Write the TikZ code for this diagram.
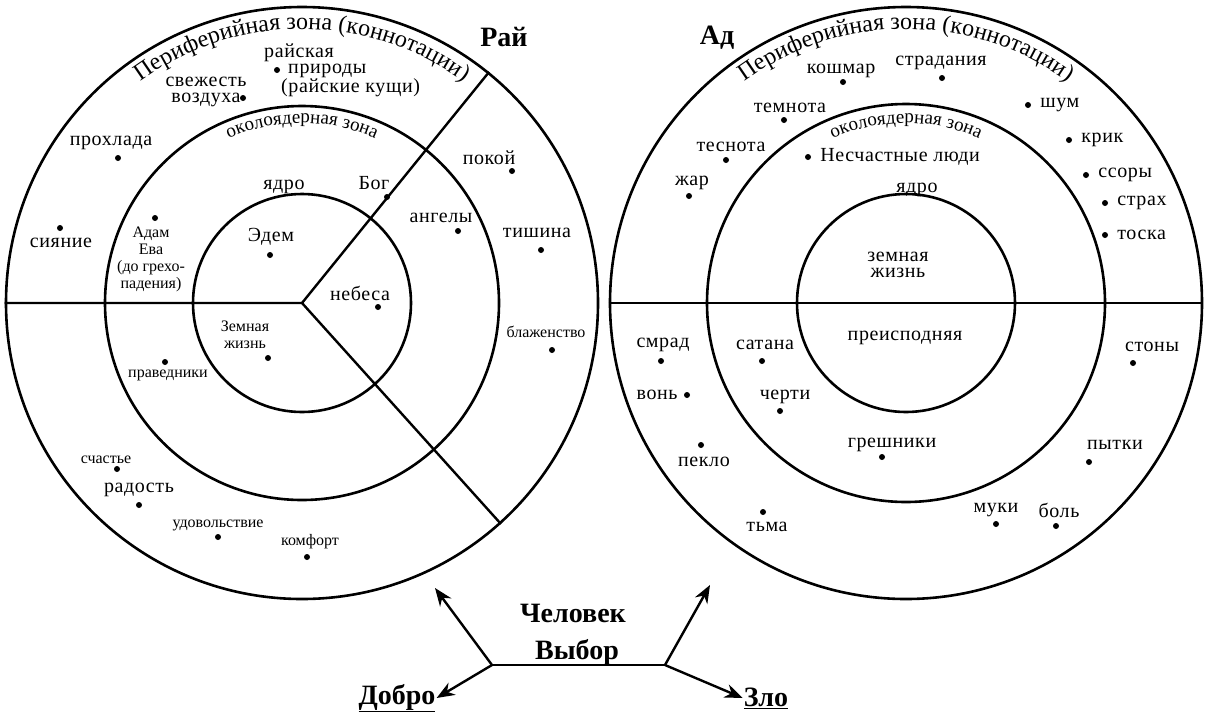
\documentclass[tikz,border=0pt]{standalone}
\usepackage{fontspec}
\setmainfont{Liberation Serif}
\newfontfamily\lblfont[LetterSpace=3]{Liberation Serif}
\usetikzlibrary{arrows.meta}
\usetikzlibrary{decorations.text}
\usetikzlibrary{positioning}

\tikzset{
    ring/.style={circle, draw, line width=2.6pt, inner sep=0pt},
    spoke/.style={line width=2.4pt},
    dot/.style={circle, fill=black, inner sep=0pt, minimum size=6pt},
    lbl/.style={inner sep=1pt, font=\lblfont\fontsize{20}{16}\selectfont, align=center},
    sml/.style={inner sep=1pt, font=\rmfamily\fontsize{16}{17}\selectfont, align=center},
    heading/.style={inner sep=1pt, font=\rmfamily\bfseries\fontsize{28}{28}\selectfont},
    choice/.style={-{Stealth[length=18pt, width=14pt]}, line width=2.4pt},
}

\begin{document}
\begin{tikzpicture}[x=1pt, y=-1pt]
    \path[fill=white, use as bounding box] (0,0) rectangle (1205,713);

    % Рай
    \coordinate (rai-c) at (302,303);
    \node[ring, minimum size=592pt] (rai-out) at (rai-c) {};
    \node[ring, minimum size=394pt] (rai-mid) at (rai-c) {};
    \node[ring, minimum size=218pt] (rai-in) at (rai-c) {};
    \draw[spoke] (rai-out.west) -- (rai-c) -- (rai-out.51);
    \draw[spoke] (rai-c) -- (rai-out.-48);

    % Ад
    \coordinate (ad-c) at (906,303);
    \node[ring, minimum size=592pt] (ad-out) at (ad-c) {};
    \node[ring, minimum size=398pt] (ad-mid) at (ad-c) {};
    \node[ring, minimum size=218pt] (ad-in) at (ad-c) {};
    \draw[spoke] (ad-out.west) -- (ad-out.east);

    \foreach \c in {rai-c, ad-c} {
        \path[decorate, decoration={text along path, text align=center,
            text={|\rmfamily\fontsize{24}{24}\selectfont|Периферийная зона (коннотации)}}]
            (\c) ++(-128:274) arc[start angle=-128, end angle=-52, radius=274];
        \path[decorate, decoration={text along path, text align=center,
            text={|\rmfamily\fontsize{19}{19}\selectfont|околоядерная зона}}]
            (\c) ++(-120:180) arc[start angle=-120, end angle=-60, radius=180];
    }

    \foreach \nm/\x/\y in {rai-priroda/277/70, rai-vozduh/243/98, rai-proxl/118/158,
        rai-siyan/60/228, rai-bog/387/197, rai-edem/270/255, rai-adam/155/218,
        rai-nebesa/378/307, rai-zemn/268/358, rai-praved/165/362, rai-schast/117/469,
        rai-radost/139/505, rai-udov/218/537, rai-komf/307/557, rai-pokoi/512/171,
        rai-angely/458/231, rai-tish/541/250, rai-blazh/552/350}
        \node[dot] (\nm) at (\x,\y) {};
    \foreach \nm/\x/\y in {ad-koshmar/843/82, ad-strad/942/78, ad-temnota/784/120,
        ad-tesnota/726/160, ad-zhar/689/196, ad-lyudi/808/157, ad-shum/1028/105,
        ad-krik/1069/140, ad-ssory/1086/175, ad-strah/1105/203, ad-toska/1105/235,
        ad-smrad/661/361, ad-von/687/395, ad-peklo/701/445, ad-tma/763/512,
        ad-satana/762/361, ad-cherti/780/411, ad-greshn/882/457, ad-stony/1133/363,
        ad-pytki/1089/462, ad-muki/996/524, ad-bol/1056/526}
        \node[dot] (\nm) at (\x,\y) {};

    % подписи: Рай
    \node[heading] (rai-title) at (504,37) {Рай};
    \node[lbl, anchor=west, align=left] (rai-priroda-t) at (263,70)
        {райская\\\hspace*{24pt}природы\\\hspace*{17pt}(райские кущи)};
    \node[lbl] (rai-vozduh-t) at (206,92) {свежесть\\воздуха};
    \node[lbl] (rai-proxl-t) at (111,143) {прохлада};
    \node[lbl] (rai-siyan-t) at (61,243) {сияние};
    \node[lbl] (rai-yadro) at (284,187) {ядро};
    \node[lbl] (rai-bog-t) at (374,183) {Бог};
    \node[lbl] (rai-edem-t) at (271,237) {Эдем};
    \node[sml] (rai-adam-t) at (151,259) {Адам\\Ева\\(до грехо-\\падения)};
    \node[lbl] (rai-nebesa-t) at (360,293) {небеса};
    \node[sml] (rai-zemn-t) at (245,335) {Земная\\жизнь};
    \node[sml] (rai-praved-t) at (168,375) {праведники};
    \node[sml] (rai-schast-t) at (106,460) {счастье};
    \node[lbl] (rai-radost-t) at (139,490) {радость};
    \node[sml] (rai-udov-t) at (218,525) {удовольствие};
    \node[sml] (rai-komf-t) at (310,542) {комфорт};
    \node[lbl] (rai-pokoi-t) at (489,158) {покой};
    \node[lbl] (rai-angely-t) at (441,218) {ангелы};
    \node[lbl] (rai-tish-t) at (537,233) {тишина};
    \node[sml] (rai-blazh-t) at (546,332) {блаженство};

    % подписи: Ад
    \node[heading] (ad-title) at (717,38) {Ад};
    \node[lbl] (ad-koshmar-t) at (841,71) {кошмар};
    \node[lbl] (ad-strad-t) at (941,63) {страдания};
    \node[lbl] (ad-temnota-t) at (790,108) {темнота};
    \node[lbl] (ad-tesnota-t) at (731,147) {теснота};
    \node[lbl] (ad-zhar-t) at (692,183) {жар};
    \node[lbl, right=8pt of ad-lyudi] (ad-lyudi-t) {Несчастные люди};
    \node[lbl] (ad-yadro) at (917,190) {ядро};
    \node[lbl] (ad-zemn-t) at (898,265) {земная\\жизнь};
    \node[lbl] (ad-preisp) at (905,338) {преисподняя};
    \node[lbl, right=8pt of ad-shum] (ad-shum-t) {шум};
    \node[lbl, right=8pt of ad-krik] (ad-krik-t) {крик};
    \node[lbl, right=8pt of ad-ssory] (ad-ssory-t) {ссоры};
    \node[lbl, right=8pt of ad-strah] (ad-strah-t) {страх};
    \node[lbl, right=8pt of ad-toska] (ad-toska-t) {тоска};
    \node[lbl] (ad-smrad-t) at (663,345) {смрад};
    \node[lbl, left=5pt of ad-von] (ad-von-t) {вонь};
    \node[lbl] (ad-peklo-t) at (704,462) {пекло};
    \node[lbl] (ad-tma-t) at (767,527) {тьма};
    \node[lbl] (ad-satana-t) at (765,345) {сатана};
    \node[lbl] (ad-cherti-t) at (785,397) {черти};
    \node[lbl] (ad-greshn-t) at (892,445) {грешники};
    \node[lbl] (ad-stony-t) at (1152,347) {стоны};
    \node[lbl] (ad-pytki-t) at (1115,445) {пытки};
    \node[lbl] (ad-muki-t) at (996,510) {муки};
    \node[lbl] (ad-bol-t) at (1059,510) {боль};

    % выбор
    \coordinate (fork-l) at (492,665);
    \coordinate (fork-r) at (665,665);
    \coordinate (to-rai) at (435,588);
    \coordinate (to-ad) at (710,585);
    \node[heading] (chelovek) at (573,613) {Человек};
    \node[heading] (vybor) at (577,652) {Выбор};
    \node[heading] (dobro) at (397,698) {\underline{Добро}};
    \node[heading] (zlo) at (766,698) {\underline{Зло}};
    \draw[spoke] (fork-l) -- (fork-r);
    \draw[choice] (fork-l) -- (to-rai);
    \draw[choice] (fork-l) -- (dobro.east);
    \draw[choice] (fork-r) -- (to-ad);
    \draw[choice] (fork-r) -- (zlo.west);
\end{tikzpicture}
\end{document}
